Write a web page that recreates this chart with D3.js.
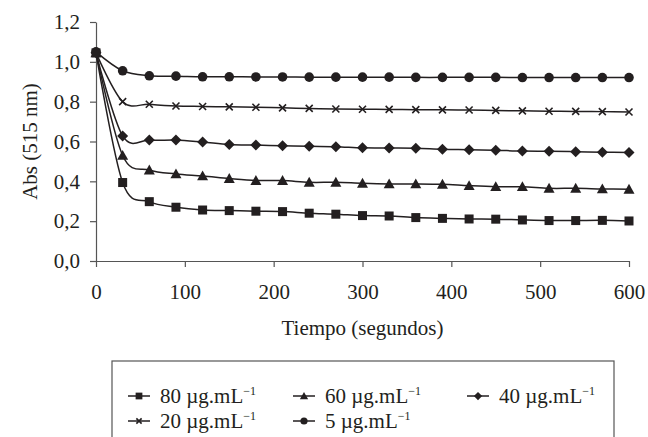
<!DOCTYPE html>
<html>
<head>
<meta charset="utf-8">
<script src="https://cdn.jsdelivr.net/npm/d3@7"></script>
<style>
  body { margin: 0; background: #fff; }
  svg { display: block; }
  text { font-family: "Liberation Serif", "DejaVu Serif", serif; fill: #231f20; }
</style>
</head>
<body>
<script>
var svgWidth = 648;
var svgHeight = 437;

// time points (seconds)
var tiempo = [0, 30, 60, 90, 120, 150, 180, 210, 240, 270, 300, 330, 360, 390, 420, 450, 480, 510, 540, 570, 600];

// absorbance series
var abs80 = [1.045, 0.394, 0.298, 0.270, 0.256, 0.253, 0.250, 0.248, 0.240, 0.235, 0.228, 0.226, 0.218, 0.214, 0.211, 0.210, 0.206, 0.203, 0.203, 0.204, 0.201];
var abs60 = [1.045, 0.530, 0.457, 0.437, 0.427, 0.414, 0.404, 0.404, 0.395, 0.395, 0.390, 0.387, 0.387, 0.385, 0.378, 0.373, 0.373, 0.365, 0.365, 0.362, 0.360];
var abs40 = [1.045, 0.628, 0.607, 0.607, 0.597, 0.585, 0.582, 0.579, 0.576, 0.574, 0.568, 0.567, 0.566, 0.561, 0.559, 0.556, 0.552, 0.551, 0.549, 0.546, 0.545];
var abs20 = [1.045, 0.800, 0.787, 0.778, 0.776, 0.774, 0.772, 0.769, 0.766, 0.763, 0.762, 0.761, 0.760, 0.759, 0.758, 0.756, 0.754, 0.752, 0.751, 0.750, 0.748];
var abs5  = [1.050, 0.955, 0.930, 0.928, 0.925, 0.925, 0.924, 0.924, 0.923, 0.923, 0.923, 0.923, 0.922, 0.922, 0.922, 0.922, 0.921, 0.921, 0.921, 0.921, 0.921];

var seriesNames = ["80", "60", "40", "20", "5"];
var seriesValues = [abs80, abs60, abs40, abs20, abs5];
var seriesSymbols = ["square", "triangle", "diamond", "cross", "circle"];

var xTicks = [0, 100, 200, 300, 400, 500, 600];
var yTicks = [0, 0.2, 0.4, 0.6, 0.8, 1.0, 1.2];

var ink = "#231f20";

var svg = d3.select("body")
  .append("svg")
  .attr("width", svgWidth)
  .attr("height", svgHeight);

var plot = { left: 96, right: 629, top: 22, bottom: 261 };

var xScale = d3.scaleLinear().domain([0, 600]).range([plot.left, plot.right]);
var yScale = d3.scaleLinear().domain([0, 1.2]).range([plot.bottom, plot.top]);

// axes
var bottomAxis = d3.axisBottom(xScale).tickValues(xTicks).tickSize(6).tickSizeOuter(0).tickPadding(17);
var leftAxis = d3.axisLeft(yScale).tickValues(yTicks).tickSize(6).tickSizeOuter(0).tickPadding(10)
  .tickFormat(function(d) { return d3.format(".1f")(d).replace(".", ","); });

var gx = svg.append("g")
  .attr("transform", `translate(0, ${plot.bottom})`)
  .call(bottomAxis);
var gy = svg.append("g")
  .attr("transform", `translate(${plot.left}, 0)`)
  .call(leftAxis);

[gx, gy].forEach(function(g) {
  g.selectAll("path, line").attr("stroke", "#555").attr("stroke-width", 1.2);
  g.selectAll("text").style("font-family", "'Liberation Serif', serif")
    .style("font-size", "21px").attr("fill", ink);
});

// axis titles
svg.append("text")
  .attr("x", (plot.left + plot.right) / 2)
  .attr("y", 335)
  .attr("text-anchor", "middle")
  .style("font-size", "21px")
  .text("Tiempo (segundos)");

svg.append("text")
  .attr("transform", `translate(37, ${(plot.top + plot.bottom) / 2}) rotate(-90)`)
  .attr("text-anchor", "middle")
  .style("font-size", "21px")
  .text("Abs (515 nm)");

// markers
function drawMarker(g, type, x, y, s) {
  s = s || 1;
  if (type === "square") {
    g.append("rect").attr("x", x - 4.5 * s).attr("y", y - 4.5 * s)
      .attr("width", 9 * s).attr("height", 9 * s).attr("fill", ink);
  } else if (type === "triangle") {
    var h = 5.5 * s;
    g.append("path").attr("d", `M${x},${y - h} L${x + h},${y + h * 0.8} L${x - h},${y + h * 0.8} Z`).attr("fill", ink);
  } else if (type === "diamond") {
    var d = 5.5 * s;
    g.append("path").attr("d", `M${x},${y - d} L${x + d},${y} L${x},${y + d} L${x - d},${y} Z`).attr("fill", ink);
  } else if (type === "cross") {
    var c = 3.5 * s;
    g.append("path").attr("d", `M${x - c},${y - c} L${x + c},${y + c} M${x - c},${y + c} L${x + c},${y - c}`)
      .attr("stroke", ink).attr("stroke-width", 1.6).attr("fill", "none");
  } else {
    g.append("circle").attr("cx", x).attr("cy", y).attr("r", 4.8 * s).attr("fill", ink);
  }
}

var line = d3.line()
  .x(function(d) { return xScale(d[0]); })
  .y(function(d) { return yScale(d[1]); })
  .curve(d3.curveCardinal.tension(0));

seriesValues.forEach(function(vals, i) {
  var pts = tiempo.map(function(t, j) { return [t, vals[j]]; });
  var g = svg.append("g");
  g.append("path")
    .attr("d", line(pts))
    .attr("fill", "none")
    .attr("stroke", ink)
    .attr("stroke-width", 1.5);
  pts.forEach(function(p) {
    drawMarker(g, seriesSymbols[i], xScale(p[0]), yScale(p[1]));
  });
});

// legend
var legendBox = { x: 112, y: 361, w: 502, h: 90 };
svg.append("rect")
  .attr("x", legendBox.x).attr("y", legendBox.y)
  .attr("width", legendBox.w).attr("height", legendBox.h)
  .attr("fill", "none").attr("stroke", "#555").attr("stroke-width", 1.2);

var legendPos = [[128, 396], [293, 396], [467, 396], [128, 421], [293, 421]];

seriesNames.forEach(function(name, i) {
  var lx = legendPos[i][0], ly = legendPos[i][1];
  var g = svg.append("g");
  g.append("line").attr("x1", lx).attr("x2", lx + 22).attr("y1", ly).attr("y2", ly)
    .attr("stroke", ink).attr("stroke-width", 1.5);
  drawMarker(g, seriesSymbols[i], lx + 11, ly, 0.75);
  var t = g.append("text").attr("x", lx + 32).attr("y", ly + 7).style("font-size", "21px");
  t.append("tspan").text(name + " \u00b5g.mL");
  t.append("tspan").attr("dy", -8).style("font-size", "12px").text("\u22121");
});
</script>
</body>
</html>
